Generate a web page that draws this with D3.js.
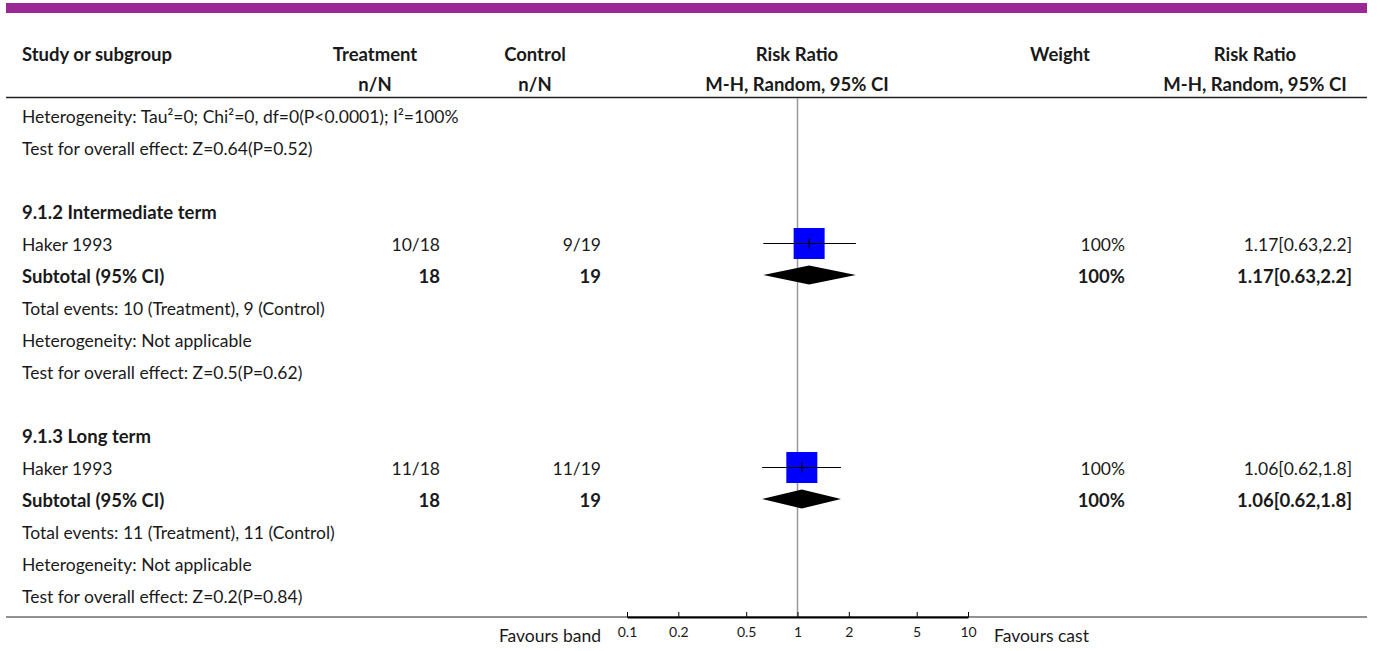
<!DOCTYPE html>
<html>
<head>
<meta charset="utf-8">
<script src="https://cdn.jsdelivr.net/npm/d3@7"></script>
<style>
  body { margin: 0; background: #fff; }
  svg text { font-family: Lato, "Noto Sans", sans-serif; fill: #1a1a1a; }
</style>
</head>
<body>
<div id="chart-area"></div>
<script>
// Forest plot data, one entry per table row
const rowLabels = [
    "Heterogeneity: Tau²=0; Chi²=0, df=0(P<0.0001); I²=100%",
    "Test for overall effect: Z=0.64(P=0.52)",
    "",
    "9.1.2 Intermediate term",
    "Haker 1993",
    "Subtotal (95% CI)",
    "Total events: 10 (Treatment), 9 (Control)",
    "Heterogeneity: Not applicable",
    "Test for overall effect: Z=0.5(P=0.62)",
    "",
    "9.1.3 Long term",
    "Haker 1993",
    "Subtotal (95% CI)",
    "Total events: 11 (Treatment), 11 (Control)",
    "Heterogeneity: Not applicable",
    "Test for overall effect: Z=0.2(P=0.84)"
];
const boldRows = [3, 5, 10, 12];
const treatmentCol = ["", "", "", "", "10/18", "18", "", "", "", "", "", "11/18", "18", "", "", ""];
const controlCol = ["", "", "", "", "9/19", "19", "", "", "", "", "", "11/19", "19", "", "", ""];
const weightCol = ["", "", "", "", "100%", "100%", "", "", "", "", "", "100%", "100%", "", "", ""];
const ciCol = ["", "", "", "", "1.17[0.63,2.2]", "1.17[0.63,2.2]", "", "", "", "", "", "1.06[0.62,1.8]", "1.06[0.62,1.8]", "", "", ""];

// Study estimates (squares)
const studyRows = [4, 11];
const studyRR = [1.17, 1.06];
const studyLo = [0.63, 0.62];
const studyHi = [2.2, 1.8];
const studyWeight = [100, 100];

// Subtotal estimates (diamonds)
const subRows = [5, 12];
const subRR = [1.17, 1.06];
const subLo = [0.63, 0.62];
const subHi = [2.2, 1.8];

const axisTicks = [0.1, 0.2, 0.5, 1, 2, 5, 10];

const width = 1381, height = 651;
const fsNormal = "17.5px", fsBold = "18.5px";

const svg = d3.select("#chart-area").append("svg")
    .attr("width", width)
    .attr("height", height);

// Scales
const y = d3.scaleLinear().domain([0, rowLabels.length - 1]).range([117, 597]);
const x = d3.scaleLog().domain([0.1, 10]).range([627, 968]);
const size = d3.scaleSqrt().domain([0, 100]).range([0, 31]);

// Top purple bar
svg.append("rect")
    .attr("x", 6).attr("y", 3)
    .attr("width", 1361).attr("height", 10)
    .attr("fill", "#9c2896");

// Header
const headTop = [
    { t: "Study or subgroup", x: 22, a: "start" },
    { t: "Treatment", x: 375, a: "middle" },
    { t: "Control", x: 535, a: "middle" },
    { t: "Risk Ratio", x: 797, a: "middle" },
    { t: "Weight", x: 1060, a: "middle" },
    { t: "Risk Ratio", x: 1255, a: "middle" }
];
const headBottom = [
    { t: "n/N", x: 375 },
    { t: "n/N", x: 535 },
    { t: "M-H, Random, 95% CI", x: 797 },
    { t: "M-H, Random, 95% CI", x: 1255 }
];
svg.selectAll(".h1").data(headTop).enter().append("text")
    .attr("x", d => d.x).attr("y", 55).attr("dy", "0.35em")
    .attr("text-anchor", d => d.a)
    .style("font-size", fsBold).style("font-weight", "bold")
    .text(d => d.t);
svg.selectAll(".h2").data(headBottom).enter().append("text")
    .attr("x", d => d.x).attr("y", 85).attr("dy", "0.35em")
    .attr("text-anchor", "middle")
    .style("font-size", fsBold).style("font-weight", "bold")
    .text(d => d.t);

svg.append("line")
    .attr("x1", 6).attr("x2", 1367).attr("y1", 97.5).attr("y2", 97.5)
    .attr("stroke", "#222").attr("stroke-width", 1.5);

// Null line
svg.append("line")
    .attr("x1", x(1)).attr("x2", x(1)).attr("y1", 98).attr("y2", 617)
    .attr("stroke", "#999").attr("stroke-width", 1.5);

// Row text columns
function addColumn(values, xPos, anchor) {
    svg.append("g").selectAll("text")
        .data(values.map((v, i) => ({ v, i })).filter(d => d.v !== ""))
        .enter().append("text")
        .attr("x", xPos).attr("y", d => y(d.i)).attr("dy", "0.35em")
        .attr("text-anchor", anchor)
        .style("font-size", d => boldRows.includes(d.i) ? fsBold : fsNormal)
        .style("font-weight", d => boldRows.includes(d.i) ? "bold" : "normal")
        .text(d => d.v);
}
addColumn(rowLabels, 22, "start");
addColumn(treatmentCol, 440, "end");
addColumn(controlCol, 601, "end");
addColumn(weightCol, 1125, "end");
addColumn(ciCol, 1352, "end");

// Study CI lines and squares
const study = studyRows.map((r, i) => ({ r, rr: studyRR[i], lo: studyLo[i], hi: studyHi[i], w: studyWeight[i] }));
const sg = svg.append("g");
sg.selectAll("rect").data(study).enter().append("rect")
    .attr("x", d => x(d.rr) - size(d.w) / 2)
    .attr("y", d => y(d.r) - 1.5 - size(d.w) / 2)
    .attr("width", d => size(d.w)).attr("height", d => size(d.w))
    .attr("fill", "#0000ff");
sg.selectAll(".ci").data(study).enter().append("line")
    .attr("x1", d => x(d.lo)).attr("x2", d => x(d.hi))
    .attr("y1", d => y(d.r) - 1.5).attr("y2", d => y(d.r) - 1.5)
    .attr("stroke", "#000").attr("stroke-width", 1.2);
sg.selectAll(".pt").data(study).enter().append("line")
    .attr("x1", d => x(d.rr)).attr("x2", d => x(d.rr))
    .attr("y1", d => y(d.r) - 6.5).attr("y2", d => y(d.r) + 3.5)
    .attr("stroke", "#000").attr("stroke-width", 1.2);

// Subtotal diamonds
const sub = subRows.map((r, i) => ({ r, rr: subRR[i], lo: subLo[i], hi: subHi[i] }));
svg.append("g").selectAll("path").data(sub).enter().append("path")
    .attr("d", d => {
        const cy = y(d.r) - 2;
        return "M" + x(d.lo) + "," + cy + "L" + x(d.rr) + "," + (cy - 9.5) +
            "L" + x(d.hi) + "," + cy + "L" + x(d.rr) + "," + (cy + 9.5) + "Z";
    })
    .attr("fill", "#000");

// Bottom rule
svg.append("line")
    .attr("x1", 6).attr("x2", 1367).attr("y1", 617).attr("y2", 617)
    .attr("stroke", "#222").attr("stroke-width", 1.2);

// Axis
const xAxis = d3.axisBottom(x)
    .tickValues(axisTicks)
    .tickFormat(d3.format(""))
    .tickSize(-5)
    .tickSizeOuter(0)
    .tickPadding(10);
const ax = svg.append("g")
    .attr("transform", "translate(0,617)")
    .call(xAxis);
ax.select(".domain").attr("stroke", "#000").attr("stroke-width", 2);
ax.selectAll(".tick line").attr("stroke", "#000");
ax.selectAll(".tick text")
    .style("font-family", "Lato, sans-serif")
    .style("font-size", "14px")
    .attr("fill", "#1a1a1a");

svg.append("text")
    .attr("x", 601).attr("y", 636).attr("dy", "0.35em")
    .attr("text-anchor", "end").style("font-size", fsNormal)
    .text("Favours band");
svg.append("text")
    .attr("x", 994).attr("y", 636).attr("dy", "0.35em")
    .attr("text-anchor", "start").style("font-size", fsNormal)
    .text("Favours cast");
</script>
</body>
</html>
